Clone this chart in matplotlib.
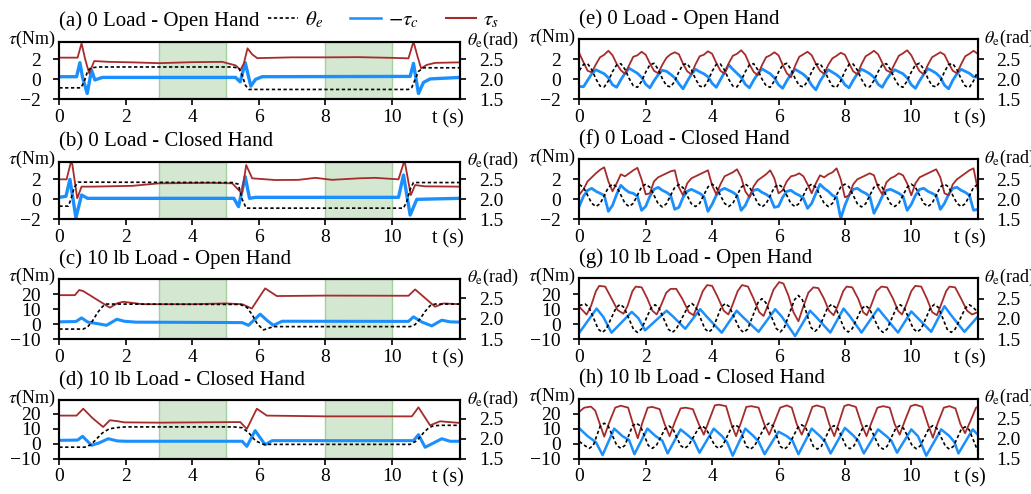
import numpy as np
import matplotlib.pyplot as plt
from matplotlib.transforms import blended_transform_factory

plt.rcParams['font.family'] = ['Liberation Serif', 'DejaVu Serif']
plt.rcParams['mathtext.fontset'] = 'stix'

RED = '#a62b2b'
BLUE = '#1b8ffd'

# ---------------- (a) 0 Load - Open Hand (static) ----------------
a_t_th = [0, 0.65, 0.75, 0.85, 0.95, 1.2, 5.2, 5.4, 5.5, 5.6, 5.7, 10.5, 10.6, 10.7, 10.8, 10.95, 12.05]
a_th = [1.79, 1.79, 1.95, 2.2, 2.29, 2.31, 2.31, 2.28, 2.1, 1.85, 1.75, 1.75, 1.8, 2.0, 2.2, 2.29, 2.29]
a_t_s = [0, 0.55, 0.67, 0.78, 0.9, 1.05, 1.5, 2.2, 3.0, 4.0, 4.9, 5.3, 5.45, 5.55, 5.66, 5.8, 5.95,
         7, 8, 9, 10, 10.5, 10.65, 10.78, 10.88, 11.05, 11.3, 12.05]
a_s = [2.17, 2.17, 3.6, 2.0, 0.6, 1.83, 1.75, 1.7, 1.62, 1.72, 1.75, 1.4, 0.95, 1.6, 3.1, 2.5, 2.12,
       2.2, 2.2, 2.22, 2.15, 2.1, 3.77, 2.2, 1.1, 1.45, 1.65, 1.7]
a_t_c = [0, 0.52, 0.62, 0.7, 0.84, 0.97, 1.07, 1.3, 5.3, 5.44, 5.59, 5.76, 5.9, 6.1,
         10.55, 10.65, 10.8, 10.95, 11.15, 12.05]
a_c = [0.27, 0.27, 1.67, 0.2, -1.4, 0.93, -0.05, 0.2, 0.2, -0.25, 1.67, -0.67, 0.0, 0.27,
       0.3, 1.6, -1.4, -0.3, 0.05, 0.2]

# ---------------- (b) 0 Load - Closed Hand (static) ----------------
b_t_th = [0, 0.27, 0.35, 0.45, 0.57, 5.2, 5.38, 5.5, 5.62, 10.35, 10.45, 10.55, 10.65, 12.05]
b_th = [1.83, 1.83, 2.0, 2.3, 2.43, 2.42, 2.38, 2.0, 1.78, 1.78, 1.95, 2.25, 2.42, 2.42]
b_t_s = [0, 0.22, 0.37, 0.54, 0.67, 1.0, 2.2, 3.0, 4.5, 5.2, 5.49, 5.62, 5.8, 6.5, 7.2, 7.7,
         8.2, 9.0, 9.5, 10.2, 10.38, 10.57, 10.7, 11.0, 12.05]
b_s = [2.0, 2.0, 4.0, 0.1, 1.27, 1.27, 1.35, 1.6, 1.65, 1.6, 0.6, 3.43, 2.1, 1.93, 1.95, 2.15,
       1.95, 2.1, 2.15, 2.0, 3.9, 0.43, 1.43, 1.3, 1.27]
b_t_c = [0, 0.2, 0.32, 0.5, 0.67, 0.85, 5.25, 5.39, 5.59, 5.72, 5.9, 10.2, 10.35, 10.55, 10.75, 12.05]
b_c = [0.2, 0.3, 2.0, -1.83, 0.43, 0.1, 0.1, -0.73, 2.27, 0.1, 0.2, 0.2, 2.43, -1.57, 0.0, 0.1]

# ---------------- (c) 10 lb Load - Open Hand (static) ----------------
c_t_th = [0, 0.72, 0.85, 1.0, 1.15, 1.3, 1.42, 5.44, 5.64, 5.8, 5.95, 6.14, 6.44,
          10.55, 10.7, 10.85, 11.0, 11.15, 11.3, 12.05]
c_th = [1.75, 1.75, 1.8, 1.95, 2.15, 2.3, 2.36, 2.35, 2.28, 2.1, 1.88, 1.73, 1.81,
        1.81, 1.86, 2.0, 2.18, 2.32, 2.36, 2.36]
c_t_s = [0, 0.47, 0.6, 0.72, 1.52, 1.75, 1.93, 2.5, 4.0, 5.0, 5.5, 5.79, 6.0, 6.19, 6.54,
         8.0, 10.5, 10.7, 11.3, 11.55, 12.05]
c_s = [19.3, 19.3, 22.7, 22.0, 11.0, 14.0, 14.9, 13.3, 13.3, 13.8, 13.3, 10.4, 17.5, 23.8, 18.7,
       19.0, 18.9, 23.1, 11.6, 13.8, 13.3]
c_t_c = [0, 0.5, 0.67, 0.85, 1.2, 1.42, 1.73, 1.95, 2.3, 5.5, 5.69, 6.04, 6.25, 6.44, 6.7,
         10.5, 10.65, 10.9, 11.2, 11.5, 11.75, 12.05]
c_c = [1.6, 1.8, 4.2, 1.5, 0.2, -0.7, 3.3, 2.0, 1.4, 1.1, -0.7, 6.7, 2.5, -0.7, 2.0,
       1.9, 4.9, 1.5, -1.1, 2.7, 1.6, 1.4]

# ---------------- (d) 10 lb Load - Closed Hand (static) ----------------
d_t_th = [0, 0.77, 0.95, 1.1, 1.3, 1.5, 1.7, 2.0, 5.24, 5.5, 5.7, 5.9, 6.14,
          10.55, 10.75, 10.95, 11.1, 11.25, 11.5, 12.05]
d_th = [1.79, 1.79, 1.85, 1.98, 2.15, 2.25, 2.28, 2.3, 2.3, 2.28, 2.15, 1.95, 1.86,
        1.86, 1.95, 2.15, 2.27, 2.33, 2.34, 2.34]
d_t_s = [0, 0.52, 0.72, 1.0, 1.32, 1.52, 1.75, 1.95, 3.0, 5.44, 5.64, 5.94, 6.24, 8.0,
         10.6, 10.8, 11.15, 11.45, 12.05]
d_s = [18.7, 18.7, 23.3, 17.0, 11.1, 15.6, 15.0, 14.2, 14.0, 14.4, 9.8, 23.3, 18.7, 18.2,
       18.2, 24.2, 12.2, 14.9, 13.8]
d_t_c = [0, 0.55, 0.7, 0.97, 1.2, 1.47, 1.75, 2.0, 5.5, 5.64, 5.89, 6.19, 6.4,
         10.65, 10.8, 11.0, 11.3, 11.5, 11.75, 12.05]
d_c = [2.2, 2.4, 4.9, -1.1, 0.5, 3.3, 1.8, 1.6, 1.6, -1.8, 8.7, -0.7, 2.0,
       2.0, 6.0, -2.4, 1.0, 3.3, 1.6, 1.6]

# ---------------- (e) 0 Load - Open Hand (cyclic), sampled every 0.125 s ----------------
tg = np.arange(97) * 0.125
e_th = [2.22, 2.37, 2.39, 2.24, 2.01, 1.83, 1.81, 1.96,
        2.19, 2.36, 2.39, 2.25, 2.02, 1.84, 1.80, 1.95,
        2.18, 2.36, 2.40, 2.25, 2.02, 1.84, 1.81, 1.95,
        2.19, 2.37, 2.39, 2.24, 2.01, 1.83, 1.80, 1.96,
        2.20, 2.37, 2.38, 2.23, 2.00, 1.83, 1.81, 1.97,
        2.19, 2.36, 2.39, 2.24, 2.01, 1.84, 1.80, 1.96,
        2.18, 2.36, 2.40, 2.25, 2.02, 1.84, 1.81, 1.95,
        2.19, 2.37, 2.39, 2.24, 2.01, 1.83, 1.80, 1.96,
        2.20, 2.37, 2.38, 2.23, 2.00, 1.83, 1.81, 1.97,
        2.19, 2.36, 2.39, 2.24, 2.01, 1.84, 1.80, 1.96,
        2.18, 2.36, 2.40, 2.25, 2.02, 1.84, 1.81, 1.95,
        2.19, 2.37, 2.39, 2.24, 2.01, 1.83, 1.80, 1.96,
        2.20]
e_s = [2.60, 1.70, 0.85, 0.70, 1.50, 2.20, 2.45, 2.85,
       2.40, 1.55, 0.90, 0.55, 1.40, 2.25, 2.40, 2.75,
       2.45, 1.60, 0.85, 0.60, 1.45, 2.15, 2.50, 2.70,
       2.50, 1.55, 0.80, 0.50, 1.50, 2.30, 2.45, 2.80,
       2.55, 1.65, 0.85, 0.55, 1.60, 2.35, 2.55, 2.90,
       2.45, 1.50, 0.75, 0.40, 1.40, 2.20, 2.40, 2.70,
       2.40, 1.45, 0.60, 0.20, 1.35, 2.25, 2.50, 2.75,
       2.40, 1.55, 0.85, 0.55, 1.45, 2.10, 2.35, 2.65,
       2.45, 1.60, 0.80, 0.50, 1.50, 2.30, 2.55, 2.85,
       2.50, 1.65, 0.90, 0.70, 1.55, 2.35, 2.60, 2.90,
       2.40, 1.55, 0.80, 0.50, 1.45, 2.20, 2.45, 2.70,
       2.45, 1.60, 0.85, 0.60, 1.50, 2.30, 2.55, 2.85,
       2.55]
e_c = [-0.70, -0.75, -0.10, 0.55, 0.95, 0.75, 0.55, 0.15,
       -0.55, -0.80, -0.05, 0.60, 1.10, 0.85, 0.60, 0.20,
       -0.50, -0.85, -0.15, 0.45, 0.90, 0.80, 0.50, 0.15,
       -0.45, -0.95, -0.20, 0.50, 1.00, 0.75, 0.55, 0.25,
       -0.40, -0.80, -0.05, 0.70, 1.45, 1.00, 0.60, 0.20,
       -0.50, -0.85, -0.10, 0.55, 1.05, 0.80, 0.55, 0.15,
       -0.55, -0.90, -0.15, 0.50, 1.00, 0.75, 0.50, 0.10,
       -0.60, -1.05, -0.20, 0.45, 0.95, 0.70, 0.45, 0.10,
       -0.55, -0.85, -0.10, 0.55, 1.00, 0.80, 0.55, 0.20,
       -0.50, -0.80, -0.05, 0.55, 0.95, 0.75, 0.55, 0.15,
       -0.55, -0.90, -0.15, 0.50, 1.05, 0.85, 0.60, 0.20,
       -0.60, -0.95, -0.10, 0.55, 1.00, 0.80, 0.60, 0.25,
       0.20]

# ---------------- (f) 0 Load - Closed Hand (cyclic), sampled every 0.125 s ----------------
f_th = [2.37, 2.30, 2.10, 1.90, 1.82, 1.89, 2.09, 2.30,
        2.38, 2.31, 2.11, 1.90, 1.82, 1.90, 2.10, 2.31,
        2.38, 2.30, 2.10, 1.89, 1.81, 1.89, 2.10, 2.30,
        2.37, 2.29, 2.09, 1.89, 1.82, 1.90, 2.11, 2.31,
        2.38, 2.30, 2.10, 1.90, 1.82, 1.90, 2.10, 2.30,
        2.38, 2.31, 2.11, 1.90, 1.81, 1.89, 2.09, 2.30,
        2.37, 2.30, 2.10, 1.89, 1.82, 1.90, 2.10, 2.31,
        2.38, 2.30, 2.10, 1.90, 1.82, 1.90, 2.11, 2.31,
        2.38, 2.31, 2.10, 1.89, 1.81, 1.89, 2.10, 2.30,
        2.37, 2.30, 2.09, 1.89, 1.82, 1.90, 2.10, 2.30,
        2.38, 2.30, 2.10, 1.90, 1.82, 1.90, 2.10, 2.31,
        2.38, 2.31, 2.10, 1.90, 1.82, 1.89, 2.09, 2.30,
        2.37]
f_s = [0.45, 1.00, 1.80, 2.20, 2.60, 2.95, 3.20, 1.80,
       0.80, 1.60, 2.50, 2.30, 2.60, 2.90, 3.15, 2.00,
       0.50, 0.60, 1.80, 2.20, 2.40, 2.60, 2.80, 2.90,
       1.20, 0.40, 1.60, 2.10, 2.30, 2.50, 2.70, 2.90,
       1.40, 0.50, 1.50, 2.30, 2.50, 2.70, 3.00, 2.20,
       0.80, 0.20, 1.30, 1.90, 2.20, 2.50, 2.90, 2.10,
       0.60, 0.90, 1.80, 2.30, 2.40, 2.60, 2.30, 1.50,
       0.60, 1.60, 2.40, 2.20, 2.50, 2.70, 3.10, 2.00,
       0.20, 0.40, 1.50, 2.00, 2.20, 2.40, 2.60, 2.40,
       1.20, 0.50, 1.70, 2.10, 2.30, 2.60, 2.40, 1.60,
       0.40, 1.60, 2.20, 2.40, 2.60, 2.80, 3.00, 2.20,
       0.60, 0.40, 1.50, 2.00, 2.30, 2.60, 2.90, 3.10,
       1.00]
f_c = [-0.67, 0.30, 0.90, 1.10, 0.80, 0.60, 0.40, -1.20,
       -0.60, 0.50, 1.40, 1.00, 0.70, 0.60, 0.30, -1.10,
       -0.70, 0.30, 1.00, 1.20, 0.90, 0.70, 0.40, -1.00,
       -0.80, 0.20, 0.80, 1.00, 0.80, 0.60, 0.30, -1.20,
       -0.50, 0.40, 0.90, 1.10, 0.90, 0.70, 0.40, -1.10,
       -0.60, 0.30, 0.90, 1.00, 0.70, 0.50, 0.20, -0.80,
       -0.70, 0.20, 0.80, 0.90, 0.60, 0.40, 0.10, -0.90,
       -0.40, 0.60, 1.50, 1.10, 0.80, 0.40, 0.20, -1.90,
       -0.60, 0.40, 1.00, 1.10, 0.80, 0.60, 0.30, -1.40,
       -0.60, 0.30, 0.90, 1.00, 0.80, 0.60, 0.30, -1.10,
       -0.50, 0.40, 1.00, 1.10, 0.80, 0.60, 0.40, -1.00,
       -0.40, 0.50, 1.10, 1.20, 0.90, 0.70, 0.40, -1.10,
       -1.00]

# ---------------- (g) 10 lb Load - Open Hand (cyclic) ----------------
g_t_th = [0, 0.17, 0.29, 0.57, 0.69, 0.81, 1.11, 1.23, 1.35, 1.63, 1.75, 1.87, 2.16, 2.28, 2.40,
          2.68, 2.80, 2.92, 3.27, 3.39, 3.51, 3.78, 3.90, 4.02, 4.28, 4.40, 4.52, 4.83, 4.95, 5.07,
          5.38, 5.50, 5.62, 5.93, 6.05, 6.17, 6.48, 6.60, 6.72, 6.98, 7.10, 7.22, 7.48, 7.60, 7.72,
          7.98, 8.10, 8.22, 8.50, 8.62, 8.74, 9.03, 9.15, 9.27, 9.55, 9.67, 9.79, 10.06, 10.18, 10.30,
          10.58, 10.70, 10.82, 11.08, 11.20, 11.32, 11.63, 11.75, 11.87, 12.0]
g_th = [2.33, 2.37, 2.29, 1.75, 1.67, 1.75, 2.28, 2.36, 2.28, 1.75, 1.67, 1.75, 2.27, 2.35, 2.27,
        1.75, 1.67, 1.75, 2.30, 2.38, 2.30, 1.76, 1.68, 1.76, 2.30, 2.38, 2.30, 1.75, 1.67, 1.75,
        2.40, 2.50, 2.40, 1.77, 1.68, 1.78, 2.47, 2.58, 2.47, 1.79, 1.70, 1.78, 2.28, 2.36, 2.28,
        1.76, 1.68, 1.76, 2.25, 2.33, 2.25, 1.75, 1.67, 1.75, 2.27, 2.35, 2.27, 1.76, 1.68, 1.76,
        2.28, 2.36, 2.28, 1.75, 1.67, 1.75, 2.27, 2.35, 2.28, 2.17]
g_t_s = [0, 0.22, 0.35, 0.5, 0.6, 0.78, 0.95, 1.15, 1.33,
         1.45, 1.6, 1.7, 1.88, 2.05, 2.2, 2.33,
         2.45, 2.62, 2.75, 2.92, 3.1, 3.3, 3.44,
         3.55, 3.72, 3.85, 4.0, 4.17, 4.35, 4.49,
         4.6, 4.77, 4.9, 5.08, 5.25, 5.42, 5.55,
         5.67, 5.85, 6.02, 6.15, 6.3, 6.45, 6.6,
         6.72, 6.9, 7.05, 7.2, 7.37, 7.52, 7.66,
         7.78, 7.95, 8.05, 8.22, 8.4, 8.55, 8.66,
         8.78, 8.95, 9.1, 9.27, 9.45, 9.6, 9.72,
         9.83, 10.0, 10.12, 10.3, 10.47, 10.63, 10.77,
         10.88, 11.05, 11.15, 11.32, 11.5, 11.68, 11.83, 12.0]
g_s = [11.6, 6.4, 12, 22, 25.5, 25, 18, 9.5, 7.0,
       12, 22, 25, 24.5, 17, 9, 6.5,
       12, 21, 23.5, 23.5, 17, 8, 6.0,
       12, 22, 26, 25.5, 18, 9, 6.5,
       12, 22, 26, 25, 17, 8, 5.5,
       12, 23, 28, 27, 19, 8, 2.0,
       10, 21, 24.5, 24, 17, 9, 6.0,
       12, 22, 25, 24.5, 17, 8, 6.0,
       12, 22, 25, 24.5, 17, 9, 6.5,
       12, 22, 25.5, 25, 17, 8, 6.0,
       12, 22, 25, 24.5, 17, 9, 6.5, 8.0]
g_t_c = [0, 0.52, 0.72, 0.97, 1.58, 1.78, 1.98, 2.63, 2.83, 3.19, 3.64, 3.84, 4.29, 4.74, 4.94,
         5.4, 5.9, 6.1, 6.5, 6.95, 7.15, 7.56, 7.96, 8.16, 8.5, 9.0, 9.2, 9.6, 10.0, 10.2,
         10.6, 11.0, 11.2, 11.6, 12.0]
g_c = [-5.6, 10.4, 5.0, -5.6, 8.2, 4.0, -4.0, 9.0, 5.0, -3.0, 10.0, 5.0, -5.6, 9.0, 4.5,
       -5.0, 10.0, 5.0, -7.8, 9.0, 4.5, -5.5, 10.4, 5.0, -5.5, 10.4, 5.0, -5.5, 8.5, 4.0,
       -5.0, 12.0, 6.0, -5.0, 5.0]

# ---------------- (h) 10 lb Load - Closed Hand (cyclic) ----------------
h_t_th = [0, 0.18, 0.3, 0.42, 0.63, 0.75, 0.87, 1.13, 1.25, 1.37, 1.6, 1.72, 1.84, 2.08, 2.2, 2.32,
          2.58, 2.7, 2.82, 3.05, 3.17, 3.29, 3.58, 3.7, 3.82, 4.08, 4.2, 4.32, 4.58, 4.7, 4.82,
          5.03, 5.15, 5.27, 5.6, 5.72, 5.84, 6.05, 6.17, 6.29, 6.58, 6.7, 6.82, 7.05, 7.17, 7.29,
          7.55, 7.67, 7.79, 8.03, 8.15, 8.27, 8.53, 8.65, 8.77, 9.03, 9.15, 9.27, 9.53, 9.65, 9.77,
          10.03, 10.15, 10.27, 10.53, 10.65, 10.77, 11.03, 11.15, 11.27, 11.5, 11.62, 11.74, 12.0]
h_th = [1.93, 1.82, 1.76, 1.83, 2.32, 2.39, 2.32, 1.83, 1.76, 1.83, 2.32, 2.39, 2.32, 1.83, 1.76, 1.83,
        2.25, 2.32, 2.25, 1.83, 1.76, 1.83, 2.25, 2.32, 2.25, 1.83, 1.76, 1.83, 2.28, 2.35, 2.28,
        1.81, 1.74, 1.81, 2.32, 2.39, 2.32, 1.81, 1.74, 1.81, 2.28, 2.35, 2.28, 1.81, 1.74, 1.81,
        2.26, 2.33, 2.26, 1.82, 1.75, 1.82, 2.26, 2.33, 2.26, 1.81, 1.74, 1.81, 2.26, 2.33, 2.26,
        1.82, 1.75, 1.82, 2.26, 2.33, 2.26, 1.81, 1.74, 1.81, 2.23, 2.30, 2.23, 1.70]
h_t_s = [0, 0.15, 0.35, 0.48, 0.62, 0.75,
         0.9, 1.08, 1.25, 1.47, 1.62, 1.76,
         1.9, 2.06, 2.2, 2.42, 2.57, 2.72,
         2.87, 3.05, 3.2, 3.42, 3.6, 3.75,
         3.9, 4.08, 4.2, 4.42, 4.58, 4.72,
         4.87, 5.03, 5.18, 5.4, 5.57, 5.72,
         5.87, 6.05, 6.25, 6.4, 6.55, 6.7,
         6.85, 7.02, 7.15, 7.38, 7.53, 7.68,
         7.82, 7.98, 8.1, 8.33, 8.5, 8.65,
         8.8, 8.98, 9.15, 9.35, 9.5, 9.65,
         9.8, 9.98, 10.12, 10.33, 10.5, 10.65,
         10.8, 10.98, 11.15, 11.33, 11.48, 11.62,
         11.78, 11.95, 12.0]
h_s = [21.3, 24, 24.7, 22, 13, 4.7,
       14, 24, 25.3, 24, 13, 3.6,
       14, 24, 24.5, 23, 13, 5,
       14, 23.5, 24, 23, 13, 6,
       15, 25.5, 26, 25, 13, 5,
       14, 24.5, 25, 24, 13, 6,
       14, 24, 25.5, 24, 13, 6,
       14, 24.5, 25.5, 24, 13, 5,
       14, 25, 26, 24.5, 13, 5,
       14, 24, 25, 24, 13, 6,
       15, 25, 26, 24.5, 13, 4,
       14, 24, 25, 23.5, 13, 7,
       15, 24, 24.5]
h_t_c = [0, 0.25, 0.5, 0.7, 1.05, 1.3, 1.5, 1.66, 2.05, 2.3, 2.5, 2.66, 3.05, 3.3, 3.45, 3.62,
         4.05, 4.3, 4.45, 4.62, 5.0, 5.25, 5.4, 5.58, 6.0, 6.25, 6.42, 6.6, 7.0, 7.25, 7.4, 7.57,
         8.0, 8.25, 8.4, 8.57, 9.0, 9.25, 9.4, 9.57, 10.0, 10.2, 10.3, 10.45, 10.9, 11.15, 11.3, 11.42,
         11.85, 12.0]
h_c = [10.2, 5, 1, -7.6, 10, 5, 2.4, -7, 10, 5, 2, -6.5, 9.5, 5, 2, -6,
       10, 5, 1, -8, 10, 5, 1.5, -7, 8, 5, 2, -7, 10, 5, 1.5, -6.5,
       10.5, 5.5, 2, -6.5, 9.5, 5, 2, -6, 9.5, 5, 0, -8, 9.5, 5, 1, -6.5,
       9.5, 6]

fig = plt.figure(figsize=(10.31, 4.94), dpi=100)


def panel(rect, title, xmax, tlim, tticks, thlim, th_data, c_data, s_data,
          shade, blue_lw, tlab_x):
    ax = fig.add_axes(rect)
    ax2 = ax.twinx()
    if shade:
        for x0, x1 in [(3, 5), (8, 10)]:
            ax.axvspan(x0, x1, facecolor='#d4e8d1', edgecolor='#a3d09e', lw=1.0, zorder=0)
    ax.plot(*c_data, color=BLUE, lw=blue_lw, zorder=2)
    ax.plot(*s_data, color=RED, lw=1.3, zorder=3)
    ax2.plot(*th_data, color='black', lw=1.2, dashes=(2.0, 1.5))
    ax.set_xlim(0, xmax)
    ax.set_ylim(*tlim)
    ax.set_yticks(tticks)
    ax2.set_ylim(*thlim)
    ax2.set_yticks([1.5, 2.0, 2.5])
    ax2.set_yticklabels(['1.5', '2.0', '2.5'])
    ax.set_xticks([0, 2, 4, 6, 8, 10])
    for a in (ax, ax2):
        for sp in a.spines.values():
            sp.set_linewidth(1.5)
        a.tick_params(direction='out', length=4.5, width=1.2, labelsize=14, pad=9)
    ax.tick_params(axis='x', pad=2.5)
    ax.set_title(title, loc='left', fontsize=15, pad=11)
    ax.text(-0.01, 1.035, r'$\tau$(Nm)', transform=ax.transAxes, ha='right', va='center',
            fontsize=13)
    ax.text(1.017, 1.02, r'$\theta_\mathrm{e}$(rad)', transform=ax.transAxes, ha='left',
            va='center', fontsize=13)
    tr = blended_transform_factory(ax.transData, ax.transAxes)
    ax.annotate('t (s)', xy=(tlab_x, 0), xycoords=tr, xytext=(0, -7),
                textcoords='offset points', ha='center', va='top', fontsize=14.5)
    return ax


L, LW = 0.0575, 0.3887
R, RW = 0.5619, 0.3864

panel([L, 0.7986, LW, 0.117], '(a) 0 Load - Open Hand', 12.05, (-2, 3.76), [-2, 0, 2],
      (1.5, 2.94), (a_t_th, a_th), (a_t_c, a_c), (a_t_s, a_s), True, 2.4, 11.67)
panel([L, 0.556, LW, 0.1166], '(b) 0 Load - Closed Hand', 12.05, (-2, 3.76), [-2, 0, 2],
      (1.5, 2.94), (b_t_th, b_th), (b_t_c, b_c), (b_t_s, b_s), True, 2.4, 11.67)
panel([L, 0.3131, LW, 0.1221], '(c) 10 lb Load - Open Hand', 12.05, (-10, 30), [-10, 0, 10, 20],
      (1.5, 2.97), (c_t_th, c_th), (c_t_c, c_c), (c_t_s, c_s), True, 2.2, 11.67)
panel([L, 0.0715, LW, 0.1182], '(d) 10 lb Load - Closed Hand', 12.05, (-10, 28.9), [-10, 0, 10, 20],
      (1.5, 2.97), (d_t_th, d_th), (d_t_c, d_c), (d_t_s, d_s), True, 2.2, 11.67)

panel([R, 0.799, RW, 0.1215], '(e) 0 Load - Open Hand', 12.0, (-2, 4.0), [-2, 0, 2],
      (1.5, 3.0), (tg, e_th), (tg, e_c), (tg, e_s), False, 2.0, 11.75)
panel([R, 0.556, RW, 0.1215], '(f) 0 Load - Closed Hand', 12.0, (-2, 4.0), [-2, 0, 2],
      (1.5, 3.0), (tg, f_th), (tg, f_c), (tg, f_s), False, 2.0, 11.75)
panel([R, 0.3131, RW, 0.1235], '(g) 10 lb Load - Open Hand', 12.0, (-10, 30.5), [-10, 0, 10, 20],
      (1.5, 3.0), (g_t_th, g_th), (g_t_c, g_c), (g_t_s, g_s), False, 1.8, 11.75)
panel([R, 0.0715, RW, 0.1209], '(h) 10 lb Load - Closed Hand', 12.0, (-10, 29.8), [-10, 0, 10, 20],
      (1.5, 3.0), (h_t_th, h_th), (h_t_c, h_c), (h_t_s, h_s), False, 1.8, 11.75)

# legend across the top of panel (a)
handles = [plt.Line2D([], [], color='black', lw=1.2, dashes=(2.0, 1.5)),
           plt.Line2D([], [], color=BLUE, lw=1.8),
           plt.Line2D([], [], color=RED, lw=1.5)]
labels = [r'$\theta_e$', r'$-\tau_c$', r'$\tau_s$']
fig.legend(handles, labels, loc='center', bbox_to_anchor=(0.372, 0.96), ncol=3,
           frameon=False, fontsize=15, handlelength=1.45, handletextpad=0.35,
           columnspacing=1.3, borderpad=0, borderaxespad=0)

fig.savefig('out.png', dpi=100)
